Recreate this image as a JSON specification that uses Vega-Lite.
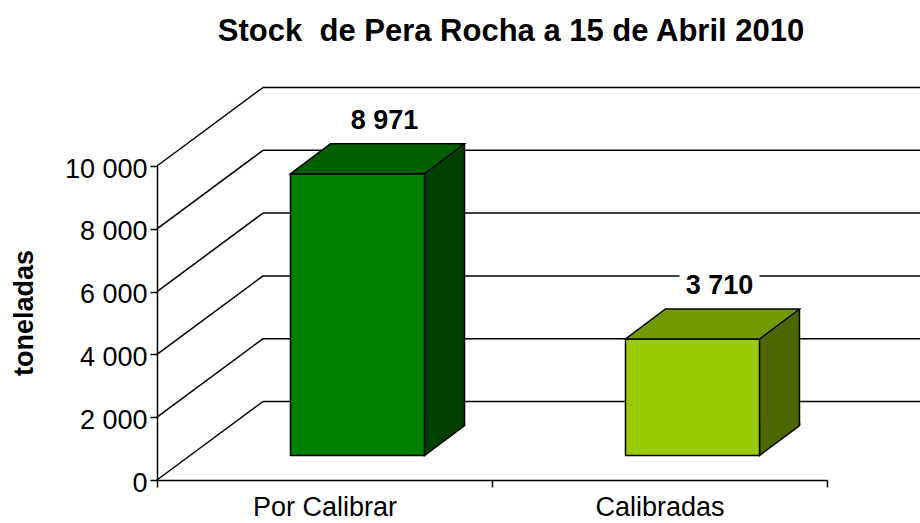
{
  "$schema": "https://vega.github.io/schema/vega-lite/v6.json",
  "width": 670,
  "height": 314,
  "autosize": {"type": "none"},
  "padding": {"left": 157, "top": 166, "right": 93, "bottom": 43},
  "background": "white",
  "config": {
    "view": {"stroke": null},
    "font": "Liberation Sans",
    "locale": {"number": {"decimal": ",", "thousands": " ", "grouping": [3], "currency": ["", " €"]}}
  },
  "title": {
    "text": "Stock\u00a0 de Pera Rocha a 15 de Abril 2010",
    "font": "Liberation Sans",
    "fontSize": 31,
    "fontWeight": "bold",
    "color": "black",
    "anchor": "middle",
    "frame": "group",
    "baseline": "alphabetic",
    "dx": 19,
    "offset": 15
  },
  "datasets": {
    "bars": [
      {"cat": "Por Calibrar", "value": 8971},
      {"cat": "Calibradas", "value": 3710}
    ],
    "grid": [
      {"v": 0}, {"v": 2000}, {"v": 4000}, {"v": 6000}, {"v": 8000}, {"v": 10000}
    ]
  },
  "resolve": {"scale": {"fill": "independent"}},
  "layer": [
    {
      "data": {"name": "grid"},
      "mark": {"type": "rule", "color": "black", "strokeWidth": 1.5, "xOffset": 106, "x2Offset": 106, "yOffset": -78.5},
      "encoding": {
        "x": {
          "datum": "Por Calibrar", "type": "nominal", "bandPosition": 0,
          "scale": {"type": "band", "domain": ["Por Calibrar", "Calibradas"], "paddingInner": 0, "paddingOuter": 0},
          "axis": {
            "title": null, "tickBand": "extent", "labelAngle": 0,
            "labelFont": "Liberation Sans", "labelFontSize": 27, "labelColor": "black", "labelPadding": 7,
            "tickSize": 7, "tickWidth": 1.5, "tickColor": "black",
            "domainWidth": 1.5, "domainColor": "black", "grid": false
          }
        },
        "x2": {"datum": "Calibradas", "bandPosition": 1},
        "y": {
          "field": "v", "type": "quantitative", "title": "toneladas",
          "scale": {"domain": [0, 10000], "nice": false, "zero": true},
          "axis": {
            "values": [0, 2000, 4000, 6000, 8000, 10000], "format": ",d", "grid": false,
            "labelFont": "Liberation Sans", "labelFontSize": 27, "labelColor": "black", "labelPadding": 3, "labelOffset": 3,
            "tickSize": 7, "tickWidth": 1.5, "tickColor": "black",
            "domainWidth": 1.5, "domainColor": "black",
            "titleFont": "Liberation Sans", "titleFontSize": 27, "titleFontWeight": "bold", "titleColor": "black",
            "titleX": -125, "titleY": 146.5, "titleBaseline": "alphabetic"
          }
        }
      }
    },
    {
      "data": {"name": "grid"},
      "mark": {"type": "rule", "color": "black", "strokeWidth": 1.5, "x2Offset": 106, "y2Offset": -78.5},
      "encoding": {
        "x": {"datum": "Por Calibrar", "type": "nominal", "bandPosition": 0},
        "x2": {"datum": "Por Calibrar", "bandPosition": 0},
        "y": {"field": "v", "type": "quantitative", "title": "toneladas"},
        "y2": {"field": "v"}
      }
    },
    {
      "data": {"name": "bars"},
      "mark": {"type": "point", "shape": "M-40,-23L40,-23L40,4L-40,4Z", "size": 4, "filled": true, "color": "white", "opacity": 1, "strokeWidth": 0, "xOffset": 60, "yOffset": -69.5},
      "encoding": {
        "x": {"field": "cat", "type": "nominal", "title": null},
        "y": {"field": "value", "type": "quantitative", "title": "toneladas"}
      }
    },
    {
      "data": {"name": "bars"},
      "mark": {"type": "bar", "width": 40, "strokeWidth": 0, "xOffset": 120, "yOffset": -54.5, "y2Offset": -54.5},
      "encoding": {
        "x": {"field": "cat", "type": "nominal", "title": null},
        "y": {"field": "value", "type": "quantitative", "title": "toneladas"},
        "y2": {"datum": 0},
        "fill": {"field": "cat", "type": "nominal", "legend": null, "scale": {"domain": ["Por Calibrar", "Calibradas"], "range": ["#004000", "#4D6600"]}}
      }
    },
    {
      "data": {"name": "bars"},
      "mark": {"type": "point", "shape": "M67,-33L67,0L107,-30L107,-33", "size": 4, "filled": true, "opacity": 1, "stroke": "black", "strokeWidth": 1.5, "xOffset": 33, "yOffset": -24.5},
      "encoding": {
        "x": {"field": "cat", "type": "nominal", "title": null},
        "y": {"datum": 0, "type": "quantitative"},
        "fill": {"field": "cat", "type": "nominal", "legend": null, "scale": {"domain": ["Por Calibrar", "Calibradas"], "range": ["#004000", "#4D6600"]}}
      }
    },
    {
      "data": {"name": "bars"},
      "mark": {"type": "bar", "width": {"band": 0.4}, "stroke": "black", "strokeWidth": 1.5, "xOffset": 33, "yOffset": -24.5, "y2Offset": -24.5},
      "encoding": {
        "x": {"field": "cat", "type": "nominal", "title": null},
        "y": {"field": "value", "type": "quantitative", "title": "toneladas"},
        "y2": {"datum": 0},
        "fill": {"field": "cat", "type": "nominal", "legend": null, "scale": {"domain": ["Por Calibrar", "Calibradas"], "range": ["#008000", "#99CC00"]}}
      }
    },
    {
      "data": {"name": "bars"},
      "mark": {"type": "point", "shape": "M-67,0L67,0L107,-30L-27,-30Z", "size": 4, "filled": true, "opacity": 1, "stroke": "black", "strokeWidth": 1.5, "xOffset": 33, "yOffset": -24.5},
      "encoding": {
        "x": {"field": "cat", "type": "nominal", "title": null},
        "y": {"field": "value", "type": "quantitative", "title": "toneladas"},
        "fill": {"field": "cat", "type": "nominal", "legend": null, "scale": {"domain": ["Por Calibrar", "Calibradas"], "range": ["#006000", "#739900"]}}
      }
    },
    {
      "data": {"name": "bars"},
      "mark": {"type": "rule", "color": "black", "strokeWidth": 1.5, "xOffset": 140, "yOffset": -54.5, "y2Offset": -54.5},
      "encoding": {
        "x": {"field": "cat", "type": "nominal", "title": null},
        "y": {"field": "value", "type": "quantitative", "title": "toneladas"},
        "y2": {"datum": 0}
      }
    },
    {
      "data": {"name": "bars"},
      "mark": {"type": "text", "font": "Liberation Sans", "fontSize": 27, "fontWeight": "bold", "color": "black", "align": "center", "baseline": "alphabetic", "xOffset": 60, "yOffset": -69.5},
      "encoding": {
        "x": {"field": "cat", "type": "nominal", "title": null},
        "y": {"field": "value", "type": "quantitative", "title": "toneladas"},
        "text": {"field": "value", "type": "quantitative", "format": ",d"}
      }
    }
  ]
}
